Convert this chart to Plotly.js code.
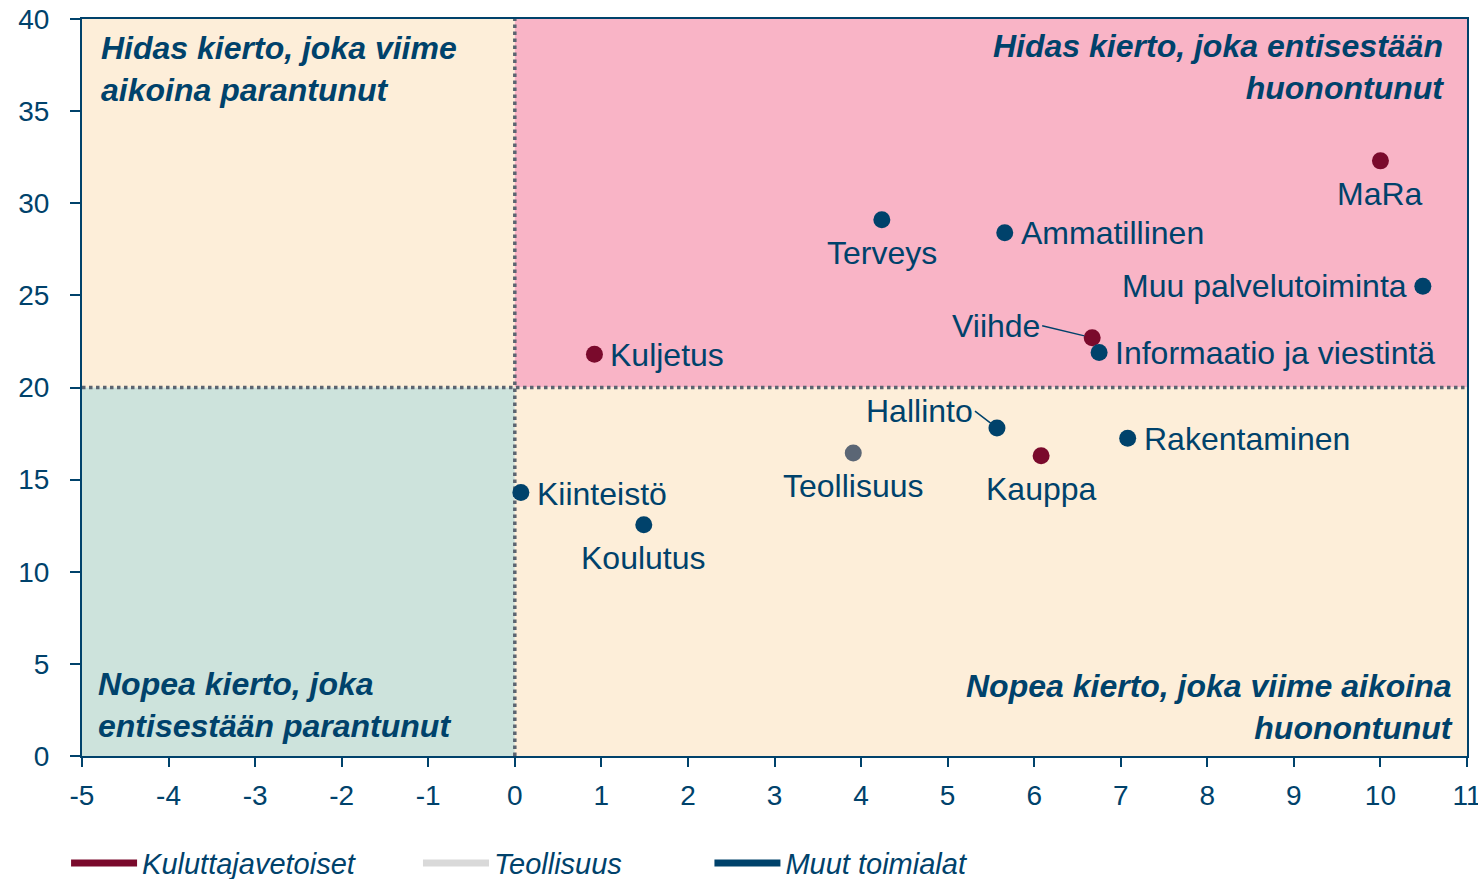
<!DOCTYPE html>
<html>
<head>
<meta charset="utf-8">
<script src="https://cdn.plot.ly/plotly-3.0.1.min.js"></script>
<style>
html,body{margin:0;padding:0;background:#fff;}
#chart{width:1478px;height:879px;}
</style>
</head>
<body>
<div id="chart"></div>
<script>
// ---- data ----
const names  = ["MaRa","Terveys","Ammatillinen","Muu palvelutoiminta","Viihde","Informaatio ja viestintä","Kuljetus","Hallinto","Rakentaminen","Teollisuus","Kauppa","Kiinteistö","Koulutus"];
const xVals  = [10.0, 4.24, 5.66, 10.49, 6.67, 6.75, 0.92, 5.57, 7.08, 3.91, 6.08, 0.07, 1.49];
const yVals  = [32.3, 29.1, 28.4, 25.5, 22.7, 21.9, 21.8, 17.8, 17.25, 16.45, 16.3, 14.3, 12.55];
const groups = ["Kuluttajavetoiset","Muut toimialat","Muut toimialat","Muut toimialat","Kuluttajavetoiset","Muut toimialat","Kuluttajavetoiset","Muut toimialat","Muut toimialat","Teollisuus","Kuluttajavetoiset","Muut toimialat","Muut toimialat"];
const legendNames = ["Kuluttajavetoiset","Teollisuus","Muut toimialat"];
const quadrantTexts = [
  "Hidas kierto, joka viime<br>aikoina parantunut",
  "Hidas kierto, joka entisestään<br>huonontunut",
  "Nopea kierto, joka<br>entisestään parantunut",
  "Nopea kierto, joka viime aikoina<br>huonontunut"
];
const xTicks = [-5,-4,-3,-2,-1,0,1,2,3,4,5,6,7,8,9,10,11];
const yTicks = [0,5,10,15,20,25,30,35,40];

// ---- styles ----
const NAVY = "#00426b";
const MAROON = "#7a0a2c";
const markerColors = {"Kuluttajavetoiset": MAROON, "Teollisuus": "#5b6675", "Muut toimialat": NAVY};
const legendColors = {"Kuluttajavetoiset": MAROON, "Teollisuus": "#d9d9d9", "Muut toimialat": NAVY};
const FONT = "Liberation Sans, Arial, sans-serif";

const labelPlace = {
  "MaRa": {xanchor:"center", yanchor:"middle", xs:0, ys:-33},
  "Terveys": {xanchor:"center", yanchor:"middle", xs:0, ys:-33},
  "Ammatillinen": {xanchor:"left", yanchor:"middle", xs:14, ys:0},
  "Muu palvelutoiminta": {xanchor:"right", yanchor:"middle", xs:-14, ys:0},
  "Viihde": {arrow:true, ax:-50, ay:-12},
  "Informaatio ja viestintä": {xanchor:"left", yanchor:"middle", xs:14, ys:-1},
  "Kuljetus": {xanchor:"left", yanchor:"middle", xs:14, ys:-1},
  "Hallinto": {arrow:true, ax:-22, ay:-17},
  "Rakentaminen": {xanchor:"left", yanchor:"middle", xs:14, ys:-1},
  "Teollisuus": {xanchor:"center", yanchor:"middle", xs:0, ys:-33},
  "Kauppa": {xanchor:"center", yanchor:"middle", xs:0, ys:-33},
  "Kiinteistö": {xanchor:"left", yanchor:"middle", xs:14, ys:-1},
  "Koulutus": {xanchor:"center", yanchor:"middle", xs:0, ys:-33}
};

const traces = [];
legendNames.forEach(g => {
  const idx = groups.map((v,i)=>v===g?i:-1).filter(i=>i>=0);
  traces.push({
    type:"scatter", mode:"markers",
    x: idx.map(i=>xVals[i]), y: idx.map(i=>yVals[i]),
    marker:{color:markerColors[g], size:17},
    showlegend:false, hoverinfo:"text", text: idx.map(i=>names[i])
  });
});
const legendIds = ["legend","legend2","legend3"];
legendNames.forEach((g,k) => {
  traces.push({
    type:"scatter", mode:"lines", x:[null], y:[null], name:g, legend:legendIds[k],
    line:{color:legendColors[g], width:7}, showlegend:true
  });
});

const annotations = names.map((n,i)=>{
  const p = labelPlace[n];
  const base = {x:xVals[i], y:yVals[i], xref:"x", yref:"y", text:n,
    font:{family:FONT, size:32, color:NAVY}};
  if (p.arrow) {
    return Object.assign(base, {showarrow:true, ax:p.ax, ay:p.ay, axref:"pixel", ayref:"pixel",
      arrowhead:0, arrowwidth:1.5, arrowcolor:NAVY, standoff:8,
      xanchor:"right", yanchor:"middle"});
  }
  return Object.assign(base, {showarrow:false, xanchor:p.xanchor, yanchor:p.yanchor, xshift:p.xs, yshift:p.ys});
});

const qFont = {family:FONT, size:32, color:NAVY};
const qPos = [
  {x:0.012, y:0.932, xanchor:"left", yanchor:"middle", align:"left"},
  {x:0.985, y:0.935, xanchor:"right", yanchor:"middle", align:"right"},
  {x:0.010, y:0.069, xanchor:"left", yanchor:"middle", align:"left"},
  {x:0.991, y:0.066, xanchor:"right", yanchor:"middle", align:"right"}
];
quadrantTexts.forEach((t,i)=>{
  annotations.push(Object.assign({xref:"paper", yref:"paper", showarrow:false,
    text:"<b><i>"+t+"</i></b>", font:qFont}, qPos[i]));
});

const shapes = [
  {type:"rect", xref:"x", yref:"y", x0:-5, x1:0, y0:20, y1:40, fillcolor:"#fdeed9", line:{width:0}, layer:"below"},
  {type:"rect", xref:"x", yref:"y", x0:0, x1:11, y0:20, y1:40, fillcolor:"#f9b4c6", line:{width:0}, layer:"below"},
  {type:"rect", xref:"x", yref:"y", x0:-5, x1:0, y0:0, y1:20, fillcolor:"#cde3dc", line:{width:0}, layer:"below"},
  {type:"rect", xref:"x", yref:"y", x0:0, x1:11, y0:0, y1:20, fillcolor:"#fdeed9", line:{width:0}, layer:"below"},
  {type:"line", xref:"x", yref:"y", x0:0, x1:0, y0:0, y1:40, line:{color:"#5b6470", width:3.5, dash:"dot"}, layer:"below"},
  {type:"line", xref:"x", yref:"y", x0:-5, x1:11, y0:20, y1:20, line:{color:"#5b6470", width:3.5, dash:"dot"}, layer:"below"}
];

const legendBase = {orientation:"h", xref:"container", yref:"container", y:0.018, yanchor:"middle", xanchor:"left",
  font:{family:FONT, size:29, color:NAVY, style:"italic"}, itemwidth:66, bgcolor:"rgba(0,0,0,0)"};

const layout = {
  width:1478, height:879,
  margin:{l:82, r:11, t:19, b:123, autoexpand:false},
  paper_bgcolor:"#ffffff", plot_bgcolor:"#ffffff",
  font:{family:FONT, color:NAVY},
  xaxis:{range:[-5,11], tickvals:xTicks, ticktext:xTicks.map(String), showgrid:false, zeroline:false,
    showline:true, linecolor:NAVY, linewidth:2, mirror:true, ticks:"outside", ticklen:9, tickwidth:2, tickcolor:NAVY,
    tickfont:{family:FONT, size:28, color:NAVY}, ticklabelstandoff:4, ticklabeloverflow:"allow", automargin:false, fixedrange:true},
  yaxis:{range:[0,40], tickvals:yTicks, ticktext:yTicks.map(String), showgrid:false, zeroline:false,
    showline:true, linecolor:NAVY, linewidth:2, mirror:true, ticks:"outside", ticklen:10, tickwidth:2, tickcolor:NAVY,
    tickfont:{family:FONT, size:28, color:NAVY}, ticklabelstandoff:15, ticklabeloverflow:"allow", automargin:false, fixedrange:true},
  shapes:shapes,
  annotations:annotations,
  showlegend:true,
  legend:Object.assign({}, legendBase, {x:0.0447}),
  legend2:Object.assign({}, legendBase, {x:0.2828}),
  legend3:Object.assign({}, legendBase, {x:0.4800})
};

Plotly.newPlot("chart", traces, layout, {displayModeBar:false, staticPlot:true});
</script>
</body>
</html>
